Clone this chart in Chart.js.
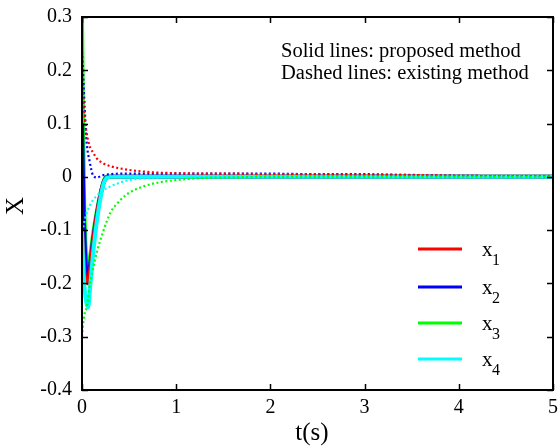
<!DOCTYPE html>
<html>
<head>
<meta charset="utf-8">
<script src="https://cdn.jsdelivr.net/npm/chart.js@4"></script>
<style>
  html, body { margin: 0; padding: 0; background: #fff; }
  #wrap { width: 558px; height: 446px; }
</style>
</head>
<body>
<div id="wrap"><canvas id="stateChart" width="558" height="446"></canvas></div>
<script>
// time samples (s)
var tSolid = [0, 0.01, 0.02, 0.04, 0.065, 0.09, 0.12, 0.16, 0.2, 0.23, 0.26, 0.3, 0.5, 1, 2, 3, 4, 5];
var tDashed = [0, 0.01, 0.03, 0.05, 0.08, 0.12, 0.16, 0.22, 0.3, 0.4, 0.5, 0.65, 0.8, 1.0, 1.3, 1.6, 2.0, 2.5, 3.0, 3.3, 4, 5];

// proposed method (solid)
var x1Solid = [-0.1, -0.14, -0.17, -0.195, -0.2, -0.17, -0.12, -0.07, -0.032, -0.011, -0.002, 0, 0, 0, 0, 0, 0, 0];
var x2Solid = [0.1, 0.0, -0.08, -0.165, -0.188, -0.16, -0.115, -0.068, -0.03, -0.01, -0.001, 0, 0, 0, 0, 0, 0, 0];
var x3Solid = [0.3, 0.12, -0.02, -0.14, -0.175, -0.145, -0.105, -0.062, -0.028, -0.008, 0, 0, 0, 0, 0, 0, 0, 0];
var x4Solid = [-0.1, -0.15, -0.19, -0.23, -0.245, -0.2, -0.14, -0.08, -0.036, -0.012, -0.002, 0, 0, 0, 0, 0, 0, 0];

// existing method (dashed)
var x1Dashed = [0.2, 0.16, 0.11, 0.082, 0.058, 0.045, 0.034, 0.026, 0.02, 0.016, 0.013, 0.01, 0.008, 0.007, 0.006, 0.006, 0.005, 0.005, 0.004, 0.004, 0.002, 0.001];
var x2Dashed = [0.235, 0.2, 0.125, 0.064, 0.03, 0.002, -0.001, 0.003, 0.005, 0.006, 0.006, 0.006, 0.006, 0.006, 0.006, 0.006, 0.006, 0.005, 0.005, 0.004, 0.002, 0.001];
var x3Dashed = [-0.3, -0.28, -0.255, -0.245, -0.205, -0.17, -0.14, -0.105, -0.068, -0.045, -0.03, -0.018, -0.011, -0.006, -0.002, -0.001, 0, 0, 0, 0, 0, 0];
var x4Dashed = [-0.12, -0.1, -0.08, -0.068, -0.055, -0.043, -0.035, -0.026, -0.018, -0.011, -0.006, -0.003, -0.001, 0, 0, 0, 0, 0, 0, 0, 0, 0];

var xTicks = [0, 1, 2, 3, 4, 5];
var yTicks = [0.3, 0.2, 0.1, 0, -0.1, -0.2, -0.3, -0.4];

var legendNames = ['1', '2', '3', '4'];
var colors = ['#ff0000', '#0000ff', '#00ff00', '#00ffff'];

var serif = '"Liberation Serif", "Times New Roman", serif';

function pts(t, v) {
    return t.map(function (tt, i) { return { x: tt, y: v[i] }; });
}

function dashedSet(v, c) {
    return {
        data: pts(tDashed, v), borderColor: c, borderWidth: 2.2,
        borderDash: [2, 2.5], pointRadius: 0, fill: false,
        cubicInterpolationMode: 'monotone'
    };
}
function solidSet(v, c) {
    return {
        data: pts(tSolid, v), borderColor: c, borderWidth: 4,
        pointRadius: 0, fill: false, cubicInterpolationMode: 'monotone'
    };
}

// frame, inward ticks, annotation, legend and axis titles
var decorations = {
    id: 'decorations',
    afterDraw: function (chart) {
        var ctx = chart.ctx;
        var a = chart.chartArea;
        var xs = chart.scales.x, ys = chart.scales.y;
        ctx.save();
        ctx.strokeStyle = '#000';
        ctx.lineWidth = 2;
        ctx.strokeRect(a.left, a.top, a.right - a.left, a.bottom - a.top);
        ctx.lineWidth = 1.5;
        ctx.beginPath();
        xTicks.forEach(function (v) {
            var px = Math.round(xs.getPixelForValue(v)) + 0.5;
            ctx.moveTo(px, a.bottom); ctx.lineTo(px, a.bottom - 6);
            ctx.moveTo(px, a.top); ctx.lineTo(px, a.top + 6);
        });
        yTicks.forEach(function (v) {
            var py = Math.round(ys.getPixelForValue(v)) + 0.5;
            ctx.moveTo(a.left, py); ctx.lineTo(a.left + 6, py);
            ctx.moveTo(a.right, py); ctx.lineTo(a.right - 6, py);
        });
        ctx.stroke();

        ctx.fillStyle = '#000';
        ctx.font = '20.5px ' + serif;
        ctx.textAlign = 'left';
        ctx.textBaseline = 'alphabetic';
        ctx.fillText('Solid lines: proposed method', 281, 57);
        ctx.fillText('Dashed lines: existing method', 281, 79);

        var rows = [249, 287, 323, 359];
        rows.forEach(function (ry, i) {
            ctx.strokeStyle = colors[i];
            ctx.lineWidth = 3;
            ctx.beginPath();
            ctx.moveTo(418, ry); ctx.lineTo(462, ry);
            ctx.stroke();
            ctx.fillStyle = '#000';
            ctx.font = '21px ' + serif;
            ctx.fillText('x', 482, ry + 7);
            ctx.font = '16px ' + serif;
            ctx.fillText(legendNames[i], 492, ry + 16);
        });

        ctx.font = '25px ' + serif;
        ctx.textAlign = 'center';
        ctx.textBaseline = 'middle';
        ctx.fillText('t(s)', 312, 433);
        ctx.translate(16, 206);
        ctx.rotate(-Math.PI / 2);
        ctx.fillText('X', 0, 0);
        ctx.restore();
    }
};

var chart = new Chart(document.getElementById('stateChart'), {
    type: 'line',
    data: {
        datasets: [
            dashedSet(x3Dashed, colors[2]),
            dashedSet(x4Dashed, colors[3]),
            dashedSet(x1Dashed, colors[0]),
            dashedSet(x2Dashed, colors[1]),
            solidSet(x4Solid, colors[3]),
            solidSet(x1Solid, colors[0]),
            solidSet(x2Solid, colors[1]),
            solidSet(x3Solid, colors[2])
        ]
    },
    options: {
        responsive: false,
        animation: false,
        layout: { padding: { top: 17, right: 5, left: 0, bottom: 0 } },
        plugins: { legend: { display: false }, tooltip: { enabled: false } },
        scales: {
            x: {
                type: 'linear', min: 0, max: 5,
                afterFit: function (s) { s.height = 56; s.paddingLeft = 0; s.paddingRight = 0; },
                afterBuildTicks: function (s) { s.ticks = xTicks.map(function (v) { return { value: v }; }); },
                grid: { display: false, drawTicks: false },
                border: { display: false },
                ticks: { color: '#000', padding: 6, font: { family: serif, size: 20 } }
            },
            y: {
                type: 'linear', min: -0.4, max: 0.3,
                afterFit: function (s) { s.width = 82; s.paddingTop = 0; s.paddingBottom = 0; },
                afterBuildTicks: function (s) { s.ticks = yTicks.map(function (v) { return { value: v }; }); },
                grid: { display: false, drawTicks: false },
                border: { display: false },
                ticks: {
                    color: '#000', padding: 10, font: { family: serif, size: 20 },
                    callback: function (v) { return String(Math.round(v * 10) / 10); }
                }
            }
        }
    },
    plugins: [decorations]
});
</script>
</body>
</html>
